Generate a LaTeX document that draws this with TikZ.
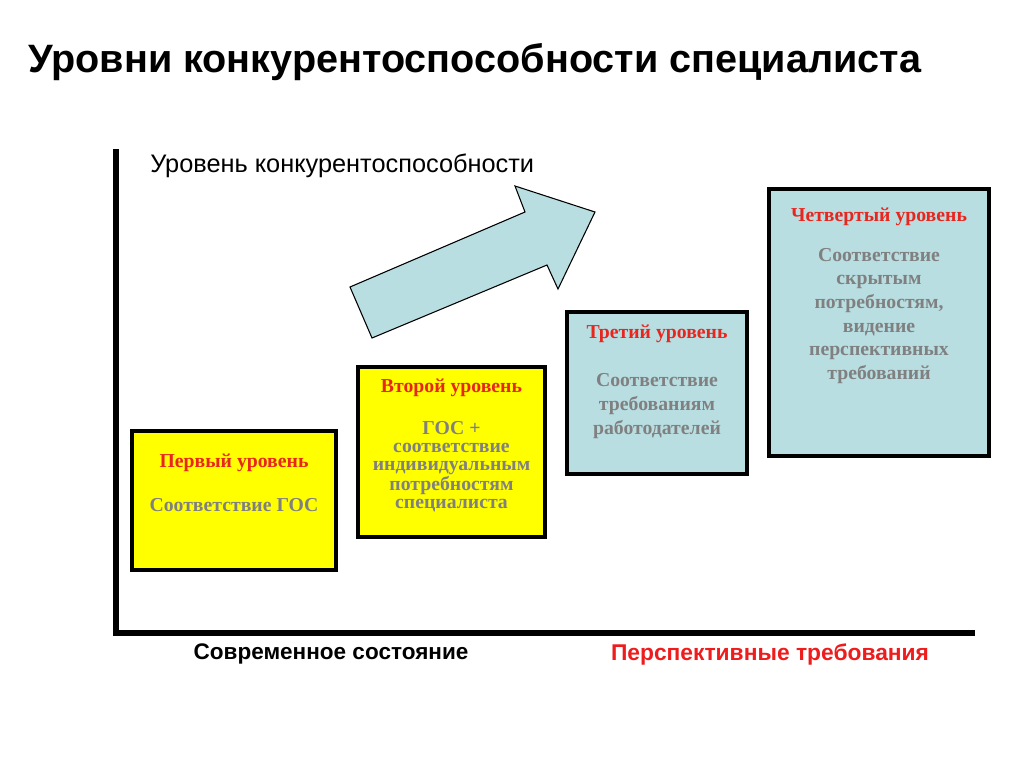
\documentclass[tikz,border=0pt]{standalone}
\usepackage{fontspec}
\setmainfont{Liberation Serif}
\setsansfont{Liberation Sans}
\definecolor{boxyellow}{HTML}{FFFF00}
\definecolor{boxblue}{HTML}{B8DEE2}
\definecolor{lvlred}{HTML}{E8261E}
\definecolor{txtgray}{HTML}{808080}
\definecolor{botred}{HTML}{EE1C1C}
\begin{document}
\begin{tikzpicture}[x=0.75pt,y=-0.75pt,
  lvlbox/.style={draw=black, line width=3.4pt, rectangle, inner sep=0pt},
  lvltitle/.style={font=\bfseries\fontsize{14.8}{17}\selectfont, text=lvlred, anchor=north, inner sep=0pt},
  lvlbody/.style={font=\bfseries\fontsize{14.8}{18}\selectfont, text=txtgray, align=center, anchor=north, inner sep=0pt},
  axisline/.style={line width=5pt, line cap=rect},
  axisshadow/.style={line width=5pt, draw=black!35, line cap=rect}]
\useasboundingbox (0,0) rectangle (1024,768);
% title
\node[anchor=base west, inner sep=0pt, font=\sffamily\bfseries\fontsize{29.7}{34}\selectfont] (title) at (28,72) {Уровни конкурентоспособности специалиста};
% axes
\coordinate (ytop) at (116,152);
\coordinate (orig) at (116,633);
\coordinate (xend) at (972,633);
\draw[axisshadow, xshift=1.5pt, yshift=-1.5pt] (ytop) -- (orig) -- (xend);
\draw[axisline] (ytop) -- (orig) -- (xend);
\node[anchor=base west, inner sep=0pt, font=\sffamily\fontsize{19}{22}\selectfont] (ylab) at (150,172) {Уровень конкурентоспособности};
\node[inner sep=0pt, font=\sffamily\bfseries\fontsize{16.9}{20}\selectfont] (xlab1) at (331,654) {Современное состояние};
\node[inner sep=0pt, text=botred, font=\sffamily\bfseries\fontsize{17.1}{20}\selectfont] (xlab2) at (770,654) {Перспективные требования};
% arrow
\draw[fill=boxblue, line width=0.8pt, line join=miter]
  (350,287) -- (525,212) -- (515,186) -- (595,212) -- (558,289) -- (547,265) -- (372,338) -- cycle;
% boxes
\node[lvlbox, fill=boxyellow, minimum width=153pt, minimum height=104.25pt] (b1) at (234,500.5) {};
\node[lvlbox, fill=boxyellow, minimum width=140.25pt, minimum height=127.5pt] (b2) at (451.5,452) {};
\node[lvlbox, fill=boxblue, minimum width=135pt, minimum height=121.5pt] (b3) at (657,393) {};
\node[lvlbox, fill=boxblue, minimum width=165pt, minimum height=200.25pt] (b4) at (879,322.5) {};
% box texts
\node[lvltitle] (t1) at (234,454) {Первый уровень};
\node[lvlbody] (d1) at (234,498) {Соответствие ГОС};
\node[lvltitle] (t2) at (451.5,379) {Второй уровень};
\node[lvlbody, font=\bfseries\fontsize{14.8}{13.7}\selectfont] (d2) at (451.5,421) {ГОС +\\соответствие\\индивидуальным\\потребностям\\специалиста};
\node[lvltitle] (t3) at (657,325) {Третий уровень};
\node[lvlbody] (d3) at (657,373) {Соответствие\\требованиям\\работодателей};
\node[lvltitle] (t4) at (879,208) {Четвертый уровень};
\node[lvlbody, font=\bfseries\fontsize{14.8}{17.7}\selectfont] (d4) at (879,248) {Соответствие\\скрытым\\потребностям,\\видение\\перспективных\\требований};
\end{tikzpicture}
\end{document}
